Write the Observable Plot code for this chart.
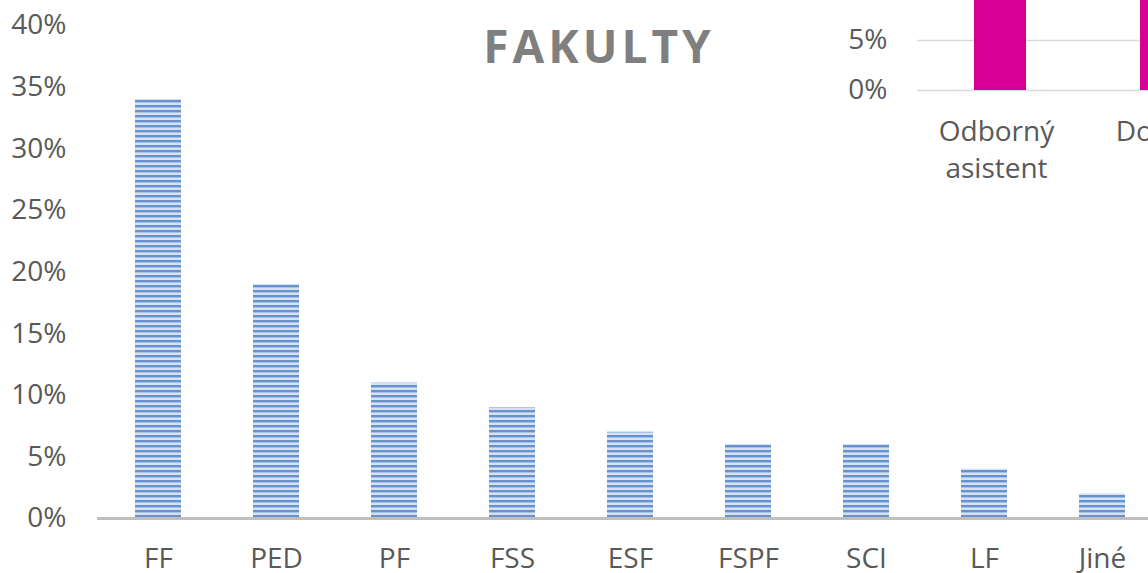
<!DOCTYPE html>
<html>
<head>
<meta charset="utf-8">
<script src="https://cdn.jsdelivr.net/npm/d3@7"></script>
<script src="https://cdn.jsdelivr.net/npm/@observablehq/plot@0.6"></script>
<style>
  html, body { margin: 0; padding: 0; background: #fff; }
  #wrap { position: relative; width: 1148px; height: 573px; overflow: hidden; background: #fff; }
  #main { position: absolute; left: 0; top: 0; }
  #inset { position: absolute; left: 810px; top: -420px; }
  svg { font-family: "Open Sans", sans-serif; }
</style>
</head>
<body>
<div id="wrap"><div id="main"></div><div id="inset"></div></div>
<script>
// Main chart data
const faculties = ["FF", "PED", "PF", "FSS", "ESF", "FSPF", "SCI", "LF", "Jiné"];
const shares = [0.34, 0.19, 0.11, 0.09, 0.07, 0.06, 0.06, 0.04, 0.02];
const yTicks = [0, 0.05, 0.10, 0.15, 0.20, 0.25, 0.30, 0.35, 0.40];
const title = "FAKULTY";

// Overlapping (partly visible) second chart data
const positions = ["Odborný asistent", "Docent", "Profesor"];
const positionLabels = ["Odborný\nasistent", "Docent", "Profesor"];
const positionShares = [0.45, 0.25, 0.10];
const insetTicks = [0, 0.05, 0.10, 0.15, 0.20, 0.25, 0.30, 0.35, 0.40, 0.45, 0.50];

const mainData = faculties.map((f, i) => ({faculty: f, share: shares[i]}));
const pct = d3.format(".0%");
const FS = 28;

const main = Plot.plot({
  width: 1148,
  height: 573,
  marginLeft: 97,
  marginRight: 0,
  marginTop: 25,
  marginBottom: 55,
  style: {fontFamily: "'Open Sans', sans-serif", fontSize: FS + "px", color: "#595959", background: "transparent"},
  x: {domain: faculties, range: [96.7, 1163.6], paddingInner: 0.612, paddingOuter: 0.306, label: null},
  y: {domain: [0, 0.4], label: null},
  marks: [
    Plot.axisY({ticks: yTicks, tickFormat: pct, tickSize: 0, tickPadding: 31, fill: "#595959", fontSize: FS, label: null}),
    Plot.axisX({tickSize: 0, tickPadding: 30, fill: "#595959", fontSize: FS, label: null}),
    Plot.barY(mainData, {x: "faculty", y: "share", fill: "url(#stripes)"}),
    Plot.ruleY([0], {stroke: "#bfbfbf", strokeWidth: 3}),
    Plot.text([title], {frameAnchor: "top", dx: -24, dy: 5, text: d => d, fontSize: 46, fontWeight: "bold", fill: "#7f7f7f"})
  ]
});

// stripe pattern
const svg = d3.select(main.tagName === "svg" ? main : main.querySelector("svg"));
const defs = svg.insert("defs", ":first-child");
const pat = defs.append("pattern").attr("id", "stripes").attr("patternUnits", "userSpaceOnUse")
  .attr("width", 8).attr("height", 5);
pat.append("rect").attr("x", 0).attr("y", 0).attr("width", 8).attr("height", 5).attr("fill", "#d6e2f2");
pat.append("rect").attr("x", 0).attr("y", 0).attr("width", 8).attr("height", 2).attr("fill", "#6693cf");
pat.append("rect").attr("x", 0).attr("y", 2).attr("width", 8).attr("height", 1).attr("fill", "#a7c1e4");
svg.selectAll("text").filter(function() { return this.textContent === title; }).attr("letter-spacing", "4px");
document.getElementById("main").appendChild(main);

const insetData = positions.map((p, i) => ({position: p, share: positionShares[i]}));
const inset = Plot.plot({
  width: 338,
  height: 620,
  marginLeft: 107,
  marginRight: 0,
  marginTop: 10,
  marginBottom: 110,
  style: {fontFamily: "'Open Sans', sans-serif", fontSize: FS + "px", color: "#595959", background: "#fff"},
  x: {domain: positions, range: [107, 107 + 166 * positions.length], paddingInner: 0.687, paddingOuter: 0.3435, label: null},
  y: {domain: [0, 0.5], label: null},
  marks: [
    Plot.gridY(insetTicks, {stroke: "#d9d9d9", strokeOpacity: 1, strokeWidth: 1.5}),
    Plot.axisY({ticks: insetTicks, tickFormat: pct, tickSize: 0, tickPadding: 30, fill: "#595959", fontSize: FS, label: null}),
    Plot.axisX({tickSize: 0, tickPadding: 24, dx: -4, fill: "#595959", fontSize: FS, lineHeight: 1.33, label: null,
      tickFormat: d => positionLabels[positions.indexOf(d)]}),
    Plot.barY(insetData, {x: "position", y: "share", fill: "#d80094"})
  ]
});
document.getElementById("inset").appendChild(inset);
</script>
</body>
</html>
